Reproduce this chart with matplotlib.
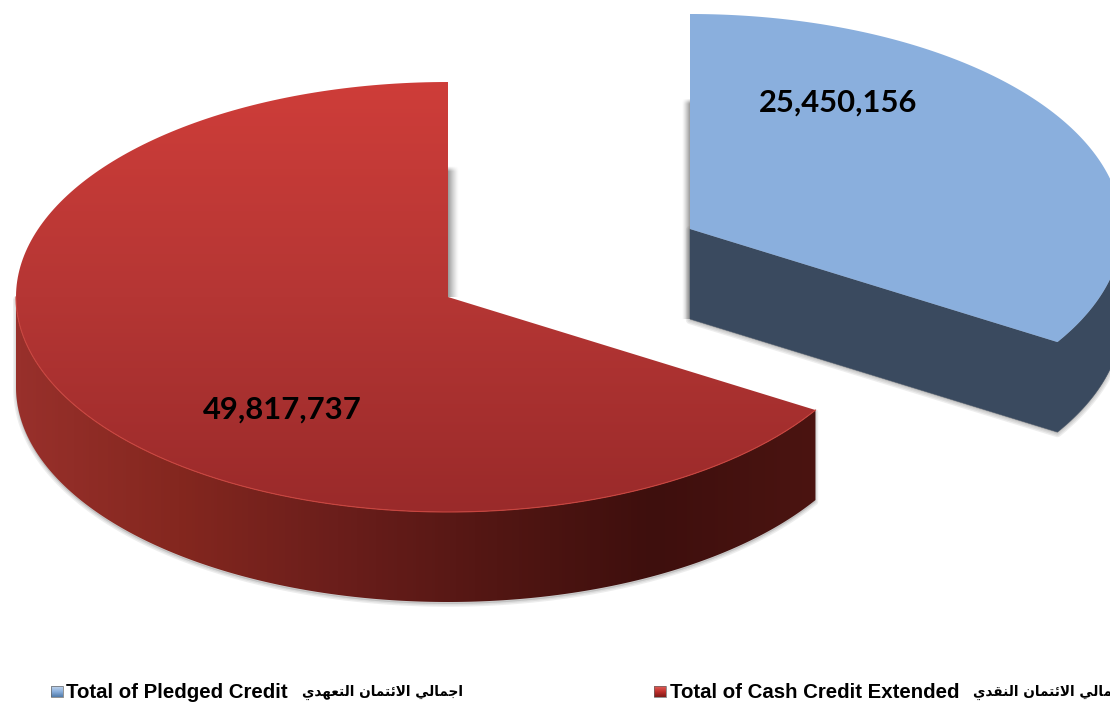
import numpy as np
import matplotlib
matplotlib.use("Agg")
import matplotlib.pyplot as plt
from matplotlib.patches import Polygon, Rectangle
from matplotlib.colors import LinearSegmentedColormap

# ---- data ----
categories = ["Total of Pledged Credit", "Total of Cash Credit Extended"]
categories_ar = ["اجمالي الائتمان التعهدي", "اجمالي الائتمان النقدي"]
values = [25450156, 49817737]
value_labels = ["25,450,156", "49,817,737"]

# ---- layout (pixels) ----
W, H = 1110, 705
RX, RY, DEPTH = 432, 215, 90
centres = [(690, 229), (448, 297)]


def shape_arabic(text):
    """Join logical Arabic text into presentation forms, in visual order."""
    forms = {'ا': (0xFE8D, 0xFE8E, None, None), 'د': (0xFEA9, 0xFEAA, None, None),
             'ج': (0xFE9D, 0xFE9E, 0xFE9F, 0xFEA0), 'م': (0xFEE1, 0xFEE2, 0xFEE3, 0xFEE4),
             'ل': (0xFEDD, 0xFEDE, 0xFEDF, 0xFEE0), 'ي': (0xFEF1, 0xFEF2, 0xFEF3, 0xFEF4),
             'ئ': (0xFE89, 0xFE8A, 0xFE8B, 0xFE8C), 'ت': (0xFE95, 0xFE96, 0xFE97, 0xFE98),
             'ن': (0xFEE5, 0xFEE6, 0xFEE7, 0xFEE8), 'ع': (0xFEC9, 0xFECA, 0xFECB, 0xFECC),
             'ه': (0xFEE9, 0xFEEA, 0xFEEB, 0xFEEC), 'ق': (0xFED5, 0xFED6, 0xFED7, 0xFED8)}
    out = []
    for word in text.split(' '):
        glyphs, i, joined = [], 0, False
        while i < len(word):
            c = word[i]
            nxt = word[i + 1] if i + 1 < len(word) else None
            if c == 'ل' and nxt == 'ا':
                glyphs.append(chr(0xFEFC if joined else 0xFEFB))
                joined = False
                i += 2
                continue
            f = forms[c]
            can_next = f[2] is not None and nxt is not None
            if joined:
                g = f[3] if can_next else f[1]
            else:
                g = f[2] if can_next else f[0]
            glyphs.append(chr(g))
            joined = can_next
            i += 1
        out.append(''.join(reversed(glyphs)))
    return ' '.join(reversed(out))


def arc(cx, cy, a0, a1, n=240):
    """Points on the ellipse; angles in degrees clockwise from 12 o'clock."""
    t = np.radians(np.linspace(a0, a1, n))
    return np.column_stack([cx + RX * np.sin(t), cy - RY * np.cos(t)])


def painted(ax, arr, extent, clip, cmap):
    im = ax.imshow(arr, extent=extent, cmap=cmap, vmin=0, vmax=1, aspect='auto',
                   interpolation='bilinear', zorder=clip.get_zorder())
    ax.add_patch(clip)
    clip.set_visible(False)
    im.set_clip_path(clip)
    return im


def soft_shadow(ax, pts, z, widths=(6, 4, 2), alpha=0.10):
    for lw in widths:
        ax.add_patch(Polygon(pts, closed=True, fc='#555555', ec='#555555', lw=lw,
                             alpha=alpha, joinstyle='round', zorder=z))


def blurred_strip(ax, x0, x1, y0, y1, fade_right, z):
    """Grey strip that fades horizontally away from the slice and softly at its top."""
    nx, ny = 40, 200
    u = np.linspace(0, 1, nx)
    fall = (1 - u) ** 1.3 if fade_right else u ** 1.3
    v = np.clip(np.linspace(0, 1, ny) * (y1 - y0) / 5, 0, 1)
    rgba = np.zeros((ny, nx, 4))
    rgba[..., :3] = 0.45
    rgba[..., 3] = 0.72 * np.outer(v, fall)
    ax.imshow(rgba, extent=(x0, x1, y1, y0), aspect='auto', interpolation='bilinear', zorder=z)


fig = plt.figure(figsize=(W / 100, H / 100), dpi=100, facecolor='white')
ax = fig.add_axes([0, 0, 1, 1])
ax.set_axis_off()

angles = 360 * np.array(values) / np.sum(values)
split = angles[0]

ramp = np.linspace(0, 1, 256)
red_top_cm = LinearSegmentedColormap.from_list('rt', ['#CE3D39', '#B53634', '#9A2A2A'])
red_side_cm = LinearSegmentedColormap.from_list(
    'rs', ['#98302B', '#84271F', '#6B1E1B', '#521613', '#3E0F0D', '#4B1411'])

# ---- blue slice ----
bcx, bcy = centres[0]
blue_top = np.vstack([[bcx, bcy], arc(bcx, bcy, 0, split)])
blue_rim_upper = arc(bcx, bcy, split, 90)
blue_wall = np.vstack([[[bcx, bcy]], blue_rim_upper, (blue_rim_upper + [0, DEPTH])[::-1],
                       [[bcx, bcy + DEPTH]]])
soft_shadow(ax, blue_wall + [0, 1], 1)
blurred_strip(ax, bcx - 8, bcx, bcy - 131, bcy + DEPTH, False, 1)
ax.add_patch(Polygon(blue_wall, closed=True, fc='#3A4A5F', ec='#3A4A5F', lw=0.3, zorder=2))
ax.add_patch(Polygon(blue_top, closed=True, fc='#8AAFDD', ec='none', zorder=3))

# ---- red slice ----
rcx, rcy = centres[1]
red_arc = arc(rcx, rcy, split, 360)
red_top = np.vstack([[rcx, rcy], red_arc])
red_rim = arc(rcx, rcy, split, 270)
red_wall = np.vstack([red_rim, (red_rim + [0, DEPTH])[::-1]])
soft_shadow(ax, red_wall + [0, 2], 4, widths=(4, 2), alpha=0.10)
x0, x1 = red_rim[:, 0].min(), red_rim[:, 0].max()
painted(ax, ramp[None, :], (x0, x1, rcy + RY + DEPTH, rcy),
        Polygon(red_wall, closed=True, zorder=5), red_side_cm)
painted(ax, ramp[:, None], (rcx - RX, rcx + RX, rcy + RY, rcy - RY),
        Polygon(red_top, closed=True, zorder=6), red_top_cm)
ax.plot(*arc(rcx, rcy, split, 270).T, color='#C9453F', lw=0.8, zorder=7)

# shadow falling to the right of the red slice's vertical cut
blurred_strip(ax, rcx, rcx + 11, rcy - 131, rcy, True, 4)

# ---- value labels ----
ax.text(838, 103, value_labels[0], family='Lato', weight='bold', fontsize=22.3,
        color='black', ha='center', va='center', zorder=10)
ax.text(282, 410, value_labels[1], family='Lato', weight='bold', fontsize=22.3,
        color='black', ha='center', va='center', zorder=10)

# ---- legend ----
sw_colors = [['#C4D6EC', '#8AAFDD', '#4F79A8'], ['#E2605A', '#C0302C', '#7E1A17']]
sw_pos = [57, 660]
txt_pos = [66, 670]
ar_pos = [302, 973]
for i in range(2):
    cm = LinearSegmentedColormap.from_list('sw%d' % i, sw_colors[i])
    painted(ax, ramp[:, None], (sw_pos[i] - 6, sw_pos[i] + 6, 697, 686),
            Rectangle((sw_pos[i] - 6, 686), 12, 11, zorder=8), cm)
    ax.add_patch(Rectangle((sw_pos[i] - 6, 686), 12, 11, fc='none', ec='#666666', lw=0.5, zorder=9))
    ax.text(txt_pos[i], 692, categories[i], family='Liberation Sans', weight='bold',
            fontsize=14.7, color='black', ha='left', va='center', zorder=10)
    ax.text(ar_pos[i], 692, shape_arabic(categories_ar[i]), family='DejaVu Sans', weight='bold',
            fontsize=9.8, color='black', ha='left', va='center', zorder=10)

ax.set_xlim(0, W)
ax.set_ylim(H, 0)
fig.savefig('out.png', dpi=100, facecolor='white')
